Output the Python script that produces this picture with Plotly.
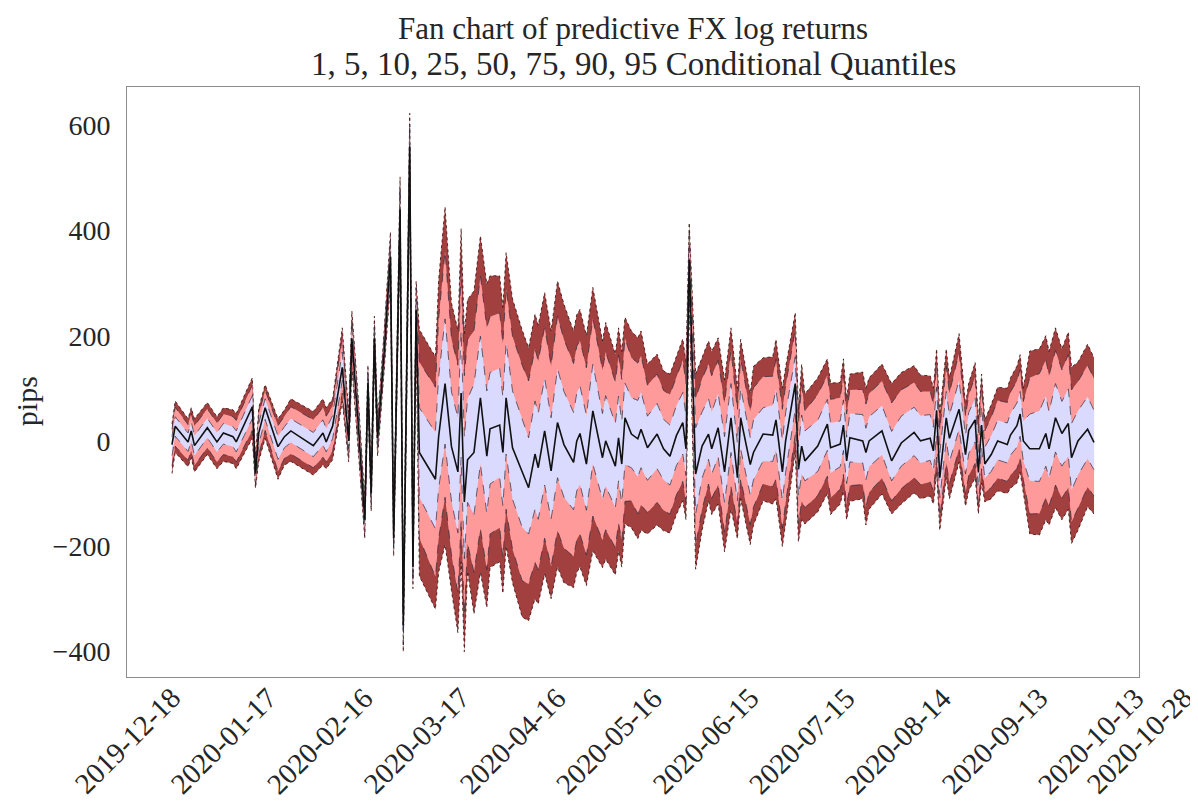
import plotly.graph_objects as go

dates = [
    "2020-01-01", "2020-01-02", "2020-01-06", "2020-01-07", "2020-01-08", "2020-01-12", "2020-01-15",
    "2020-01-17", "2020-01-20", "2020-01-21", "2020-01-26", "2020-01-27", "2020-01-28", "2020-01-30",
    "2020-02-03", "2020-02-05", "2020-02-07", "2020-02-14", "2020-02-17", "2020-02-18", "2020-02-20",
    "2020-02-23", "2020-02-25", "2020-02-26", "2020-02-28", "2020-03-01", "2020-03-02", "2020-03-03",
    "2020-03-04", "2020-03-05", "2020-03-07", "2020-03-09", "2020-03-10", "2020-03-11", "2020-03-12",
    "2020-03-13", "2020-03-14", "2020-03-15", "2020-03-16", "2020-03-17", "2020-03-18", "2020-03-23",
    "2020-03-24", "2020-03-26", "2020-03-28", "2020-03-30", "2020-03-31", "2020-04-01", "2020-04-02",
    "2020-04-04", "2020-04-06", "2020-04-08", "2020-04-09", "2020-04-12", "2020-04-13", "2020-04-14",
    "2020-04-16", "2020-04-19", "2020-04-21", "2020-04-23", "2020-04-24", "2020-04-26", "2020-04-28",
    "2020-04-30", "2020-05-02", "2020-05-05", "2020-05-06", "2020-05-07", "2020-05-09", "2020-05-11",
    "2020-05-14", "2020-05-15", "2020-05-18", "2020-05-19", "2020-05-20", "2020-05-21", "2020-05-23",
    "2020-05-25", "2020-05-26", "2020-05-28", "2020-05-31", "2020-06-02", "2020-06-04", "2020-06-06",
    "2020-06-08", "2020-06-09", "2020-06-10", "2020-06-12", "2020-06-14", "2020-06-16", "2020-06-17",
    "2020-06-19", "2020-06-21", "2020-06-23", "2020-06-25", "2020-06-26", "2020-06-29", "2020-06-30",
    "2020-07-03", "2020-07-06", "2020-07-07", "2020-07-09", "2020-07-10", "2020-07-13", "2020-07-14",
    "2020-07-15", "2020-07-16", "2020-07-20", "2020-07-23", "2020-07-24", "2020-07-27", "2020-07-28",
    "2020-07-29", "2020-07-30", "2020-08-03", "2020-08-04", "2020-08-05", "2020-08-09", "2020-08-12",
    "2020-08-15", "2020-08-19", "2020-08-21", "2020-08-24", "2020-08-25", "2020-08-26", "2020-08-27",
    "2020-08-29", "2020-08-30", "2020-09-02", "2020-09-04", "2020-09-05", "2020-09-07", "2020-09-08",
    "2020-09-09", "2020-09-10", "2020-09-12", "2020-09-14", "2020-09-17", "2020-09-18", "2020-09-20",
    "2020-09-21", "2020-09-22", "2020-09-24", "2020-09-27", "2020-09-29", "2020-09-30", "2020-10-02",
    "2020-10-04", "2020-10-06", "2020-10-07", "2020-10-09", "2020-10-12", "2020-10-14",
]

q05 = [
    -62, -22, -49, -32, -59, -26, -53, -39, -43, -53, 5, -90, -39, 5,
    -73, -46, -39, -65, -46, -53, -36, 75, -40, 140, -20, -186, 80, -134,
    150, -29, 130, 300, -219, 60, 380, -401, 50, 500, -281, 200, -257, -320,
    -250, -197, -285, -365, -230, -401, -248, -329, -250, -317, -241, -230, -290, -200,
    -270, -335, -342, -300, -310, -253, -300, -240, -270, -279, -250, -240, -275, -209,
    -241, -225, -255, -210, -240, -158, -165, -186, -170, -177, -160, -171, -175, -140,
    -114, -150, 270, -244, -170, -114, -140, -120, -211, -130, -186, -110, -197, -160,
    -114, -120, -110, -201, -157, -20, -192, -150, -158, -135, -100, -140, -120, -95,
    -150, -115, -110, -160, -130, -101, -139, -120, -99, -110, -105, -120, -60, -170,
    -70, -110, -40, -124, -95, -70, -139, -80, -116, -110, -95, -100, -90, -80,
    -60, -99, -177, -179, -150, -160, -127, -150, -130, -195, -170, -125, -139,
]

q10 = [
    -48, -10, -37, -19, -47, -13, -40, -26, -30, -40, 20, -83, -26, 20,
    -58, -33, -25, -51, -31, -40, -20, 91, -30, 154, -8, -177, 88, -126,
    161, -21, 139, 312, -211, 72, 395, -388, 62, 515, -271, 212, -185, -258,
    -186, -107, -217, -289, -150, -330, -195, -250, -167, -245, -177, -165, -223, -130,
    -206, -266, -272, -231, -245, -185, -239, -171, -204, -220, -188, -177, -217, -143,
    -189, -169, -203, -156, -191, -115, -114, -139, -122, -136, -117, -132, -139, -103,
    -77, -116, 295, -199, -130, -82, -109, -84, -173, -87, -157, -72, -159, -126,
    -82, -87, -73, -166, -118, 12, -158, -115, -127, -104, -67, -108, -92, -64,
    -122, -85, -83, -126, -98, -71, -114, -91, -70, -83, -78, -95, -31, -145,
    -42, -81, -15, -100, -66, -43, -119, -53, -98, -89, -71, -77, -65, -53,
    -32, -74, -139, -138, -109, -124, -84, -109, -89, -154, -128, -88, -105,
]

q25 = [
    -28, 9, -20, 0, -28, 6, -21, -6, -11, -21, 42, -73, -6, 41,
    -35, -13, -3, -30, -8, -21, 4, 115, -15, 174, 11, -164, 99, -113,
    178, -8, 152, 331, -198, 91, 417, -369, 81, 537, -256, 231, -107, -167,
    -90, -6, -115, -175, -31, -224, -117, -140, -44, -138, -82, -69, -124, -25,
    -111, -164, -177, -130, -149, -84, -149, -70, -107, -131, -95, -83, -132, -44,
    -111, -86, -127, -76, -118, -45, -51, -68, -51, -75, -53, -74, -84, -47,
    -25, -66, 320, -139, -71, -35, -63, -30, -117, -22, -114, -15, -103, -74,
    -38, -39, -17, -113, -60, 60, -106, -63, -76, -58, -18, -61, -49, -18,
    -81, -40, -42, -74, -49, -27, -76, -48, -28, -42, -37, -57, 13, -108,
    1, -39, 22, -63, -24, -2, -90, -12, -71, -58, -36, -42, -27, -12,
    9, -38, -76, -77, -48, -70, -21, -48, -29, -94, -65, -34, -55,
]

q50 = [
    -7, 28, -2, 19, -9, 25, -2, 15, 8, -2, 65, -62, 15, 63,
    -11, 8, 19, -9, 15, -2, 28, 140, 0, 195, 30, -150, 110, -100,
    195, 5, 165, 350, -185, 110, 440, -350, 100, 560, -240, 250, -22, -73,
    8, 109, -11, -59, 91, -116, -36, -22, 82, -29, 23, 30, -22, 82,
    -13, -59, -89, -25, -51, 19, -57, 35, -7, -41, 0, 14, -44, 57,
    -32, 0, -48, 6, -44, 44, 13, 4, 22, -13, 13, -15, -29, 10,
    35, -15, 345, -63, -10, 13, -15, 25, -59, 44, -70, 44, -45, -22,
    13, 11, 40, -59, 0, 109, -54, -10, -38, -10, 32, -13, -6, 30,
    -38, 6, 0, -22, 0, 19, -38, -4, 16, 0, 5, -19, 58, -70,
    44, 5, 60, -26, 20, 40, -60, 30, -44, -26, 0, -7, 11, 29,
    51, 0, -15, -15, 14, -15, 44, 14, 33, -32, 0, 22, -3,
]

q75 = [
    8, 46, 15, 36, 10, 43, 16, 33, 27, 19, 86, -52, 33, 80,
    9, 27, 42, 16, 40, 23, 48, 169, 21, 215, 49, -135, 123, -89,
    211, 18, 180, 368, -172, 125, 464, -331, 119, 584, -225, 271, 63, 16,
    121, 232, 93, 44, 210, 6, 80, 108, 199, 95, 130, 138, 83, 187,
    95, 44, 6, 76, 52, 119, 44, 137, 94, 54, 91, 104, 49, 146,
    52, 86, 33, 85, 37, 110, 82, 77, 93, 47, 71, 41, 30, 67,
    92, 48, 370, 25, 55, 80, 55, 90, 8, 109, -5, 101, 6, 40,
    63, 68, 98, 1, 53, 160, -11, 49, 19, 39, 79, 34, 38, 78,
    7, 52, 50, 24, 46, 67, 18, 47, 64, 48, 50, 26, 102, -24,
    94, 49, 115, 10, 54, 81, -22, 67, -12, 10, 39, 34, 52, 72,
    94, 38, 51, 57, 85, 55, 109, 75, 99, 33, 57, 84, 58,
]

q90 = [
    22, 64, 31, 52, 29, 61, 34, 51, 46, 39, 106, -42, 51, 96,
    29, 46, 65, 40, 64, 47, 67, 196, 41, 234, 68, -120, 136, -78,
    227, 31, 195, 385, -159, 140, 487, -312, 137, 607, -210, 291, 150, 102,
    232, 361, 194, 144, 326, 124, 193, 209, 313, 216, 236, 243, 185, 289,
    199, 144, 114, 175, 152, 216, 143, 237, 193, 147, 180, 191, 139, 233,
    135, 169, 112, 163, 117, 195, 158, 148, 162, 106, 127, 96, 88, 123,
    154, 109, 395, 80, 118, 146, 124, 153, 72, 172, 58, 156, 56, 101,
    122, 123, 155, 60, 105, 210, 32, 107, 57, 88, 125, 79, 82, 125,
    51, 97, 98, 70, 90, 114, 72, 97, 111, 94, 94, 70, 146, 20,
    142, 91, 168, 46, 88, 122, 15, 103, 19, 45, 77, 73, 93, 114,
    136, 75, 120, 128, 154, 124, 172, 135, 164, 97, 113, 144, 118,
]

q95 = [
    32, 76, 42, 63, 42, 73, 46, 63, 59, 52, 120, -35, 63, 107,
    42, 59, 80, 56, 80, 63, 80, 215, 55, 247, 80, -110, 144, -70,
    237, 40, 205, 397, -150, 150, 502, -300, 150, 623, -200, 304, 212, 160,
    306, 445, 262, 211, 404, 204, 269, 285, 390, 298, 314, 314, 254, 358,
    270, 211, 177, 241, 220, 282, 209, 304, 260, 209, 240, 250, 200, 292,
    190, 225, 165, 215, 170, 235, 209, 196, 209, 146, 165, 133, 127, 160,
    194, 150, 415, 127, 160, 190, 170, 196, 116, 215, 100, 193, 90, 142,
    158, 160, 193, 100, 140, 244, 60, 146, 89, 120, 156, 110, 111, 156,
    80, 127, 131, 100, 120, 146, 109, 130, 143, 125, 124, 100, 175, 50,
    175, 120, 204, 70, 110, 149, 40, 127, 40, 69, 102, 100, 120, 142,
    164, 100, 171, 175, 200, 170, 215, 175, 207, 140, 150, 184, 158,
]

tick_dates = [
    "2019-12-18", "2020-01-17", "2020-02-16", "2020-03-17", "2020-04-16", "2020-05-16",
    "2020-06-15", "2020-07-15", "2020-08-14", "2020-09-13", "2020-10-13", "2020-10-28",
]
y_ticks = [-400, -200, 0, 200, 400, 600]
title_lines = [
    "Fan chart of predictive FX log returns",
    "1, 5, 10, 25, 50, 75, 90, 95 Conditional Quantiles",
]

FONT = "Liberation Serif"
TXT = "#262626"
DARK = "#a23f3f"
PINK = "#ff9a9a"
LAV = "#dadaff"

fig = go.Figure()

edge = dict(color="rgba(60,10,10,0.9)", width=0.9, dash="dot")
inner = dict(color="rgba(40,40,60,0.85)", width=0.8, dash="dash")

fig.add_trace(go.Scatter(x=dates, y=q05, mode="lines", line=edge, hoverinfo="skip", showlegend=False))
fig.add_trace(go.Scatter(x=dates, y=q95, mode="lines", line=edge, fill="tonexty",
                         fillcolor=DARK, hoverinfo="skip", showlegend=False))
fig.add_trace(go.Scatter(x=dates, y=q10, mode="lines", line=inner, hoverinfo="skip", showlegend=False))
fig.add_trace(go.Scatter(x=dates, y=q90, mode="lines", line=inner, fill="tonexty",
                         fillcolor=PINK, hoverinfo="skip", showlegend=False))
fig.add_trace(go.Scatter(x=dates, y=q25, mode="lines", line=inner, hoverinfo="skip", showlegend=False))
fig.add_trace(go.Scatter(x=dates, y=q75, mode="lines", line=inner, fill="tonexty",
                         fillcolor=LAV, hoverinfo="skip", showlegend=False))
fig.add_trace(go.Scatter(x=dates, y=q50, mode="lines", line=dict(color="#111111", width=1.6),
                         hoverinfo="skip", showlegend=False))

annotations = []
for d in tick_dates:
    annotations.append(dict(
        x=d, xref="x", y=-0.1085, yref="paper", text=d, showarrow=False,
        textangle=-45, xanchor="center", yanchor="middle",
        font=dict(family=FONT, size=29, color=TXT),
    ))
annotations.append(dict(
    x=-0.0985, xref="paper", y=0.468, yref="paper", text="pips", showarrow=False,
    textangle=-90, xanchor="center", yanchor="middle",
    font=dict(family=FONT, size=30, color=TXT),
))
annotations.append(dict(
    x=0.5, xref="paper", y=1.1325, yref="paper", text=title_lines[0], showarrow=False,
    xanchor="center", yanchor="top",
    font=dict(family=FONT, size=31, color=TXT),
))
annotations.append(dict(
    x=0.5, xref="paper", y=1.039, yref="paper", text=title_lines[1], showarrow=False,
    xanchor="center", yanchor="middle",
    font=dict(family=FONT, size=33, color=TXT),
))

fig.update_layout(
    width=1191, height=794,
    margin=dict(l=119, r=60, t=79, b=125),
    paper_bgcolor="white", plot_bgcolor="white",
    xaxis=dict(
        type="date", range=["2019-12-18", "2020-10-28"],
        showticklabels=False, showgrid=False, zeroline=False,
        showline=True, mirror=True, linecolor="#8c8c8c", linewidth=1, ticks="",
    ),
    yaxis=dict(
        range=[-449, 673], tickvals=y_ticks, automargin=False,
        showgrid=False, zeroline=False, ticks="",
        showline=True, mirror=True, linecolor="#8c8c8c", linewidth=1,
        tickfont=dict(family=FONT, size=28, color=TXT),
        ticklabelstandoff=10,
    ),
    annotations=annotations,
)

fig.write_html("out.html")
